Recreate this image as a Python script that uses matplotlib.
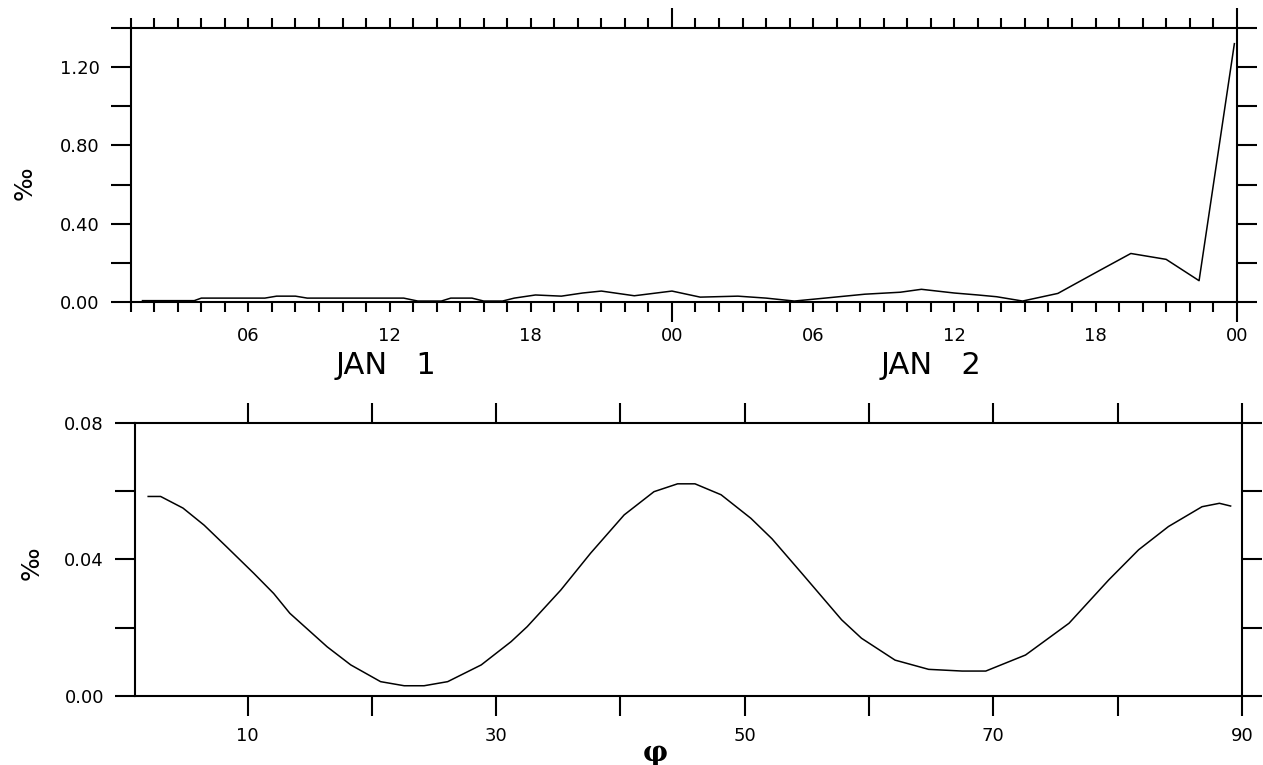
import numpy as np
import matplotlib
matplotlib.use('Agg')
import matplotlib.pyplot as plt
from matplotlib.ticker import MultipleLocator, FixedLocator, FuncFormatter

# top panel: hours since JAN 1 00Z, values in per mille
hours = [1.5, 3.7, 4.0, 6.7, 7.2, 8.0, 8.5, 12.6, 13.2, 14.2, 14.6, 15.5, 16.0, 16.8,
         17.3, 18.2, 19.3, 20.2, 21.0, 22.4, 24.0, 25.2, 26.8, 28.0, 29.2, 30.5, 32.2,
         33.7, 34.6, 36.0, 37.0, 37.8, 38.9, 40.4, 41.2, 42.2, 43.5, 45.0, 46.4, 47.9]
val_t = [0.007, 0.007, 0.02, 0.02, 0.03, 0.03, 0.02, 0.02, 0.005, 0.005, 0.02, 0.02, 0.005, 0.005,
         0.02, 0.036, 0.03, 0.046, 0.056, 0.032, 0.056, 0.025, 0.03, 0.02, 0.005, 0.02, 0.04,
         0.05, 0.065, 0.046, 0.036, 0.027, 0.005, 0.044, 0.097, 0.163, 0.248, 0.218, 0.109, 1.32]

# bottom panel: latitude phi vs per mille
phi = [2.0, 3.0, 4.8, 6.5, 8.3, 10.5, 12.1, 13.4, 16.4, 18.3, 20.7, 22.6, 24.2, 26.1, 28.8,
       31.2, 32.5, 35.2, 37.6, 40.3, 42.7, 44.6, 46.0, 48.1, 50.5, 52.2, 54.6, 57.8, 59.4,
       62.1, 64.8, 67.5, 69.4, 72.6, 76.1, 79.3, 81.7, 84.1, 86.8, 88.2, 89.1]
val_b = [0.0584, 0.0584, 0.055, 0.050, 0.0437, 0.0359, 0.030, 0.0242, 0.0144, 0.0091, 0.0042,
         0.0030, 0.0030, 0.0042, 0.0091, 0.0159, 0.0203, 0.031, 0.0418, 0.053, 0.0598, 0.0621,
         0.0621, 0.0589, 0.052, 0.046, 0.0359, 0.0223, 0.0169, 0.0105, 0.0078, 0.0073, 0.0073,
         0.012, 0.0213, 0.034, 0.0428, 0.0496, 0.0554, 0.0564, 0.0556]

day_labels = ['JAN   1', 'JAN   2']
day_pos = [11.85, 35.0]

plt.rcParams['font.family'] = ['DejaVu Sans']
plt.rcParams['font.size'] = 13

fig = plt.figure(figsize=(12.63, 7.65), dpi=100)
ax1 = fig.add_axes([0.1035, 0.6052, 0.8757, 0.3582])
ax2 = fig.add_axes([0.1069, 0.0902, 0.8763, 0.3573])

for ax in (ax1, ax2):
    for s in ax.spines.values():
        s.set_linewidth(1.5)

# ---- top panel
ax1.plot(hours, val_t, color='black', lw=1.1)
ax1.set_xlim(1, 48)
ax1.set_ylim(0, 1.4)
ax1.xaxis.set_major_locator(FixedLocator([24, 48]))
ax1.xaxis.set_major_formatter(FuncFormatter(lambda v, p: '00'))
ax1.xaxis.set_minor_locator(MultipleLocator(1))
ax1.xaxis.set_minor_formatter(FuncFormatter(
    lambda v, p: '%02d' % (int(round(v)) % 24) if round(v) % 6 == 0 else ''))
ax1.tick_params(axis='x', which='major', direction='out', length=14.4, width=1.5,
                top=True, pad=3.6)
ax1.tick_params(axis='x', which='minor', direction='out', length=7.2, width=1.5,
                top=True, pad=10.8, labelsize=13)
ax1.yaxis.set_major_locator(MultipleLocator(0.4))
ax1.yaxis.set_minor_locator(MultipleLocator(0.2))
ax1.yaxis.set_major_formatter(FuncFormatter(lambda v, p: '%.2f' % v))
ax1.tick_params(axis='y', which='both', direction='out', length=14.4, width=1.5,
                right=True, pad=8)
ax1.set_ylabel('‰', fontsize=18)
ax1.yaxis.set_label_coords(-0.0847, 0.434)
for lab, pos in zip(day_labels, day_pos):
    ax1.text(pos, -0.23, lab, transform=ax1.get_xaxis_transform(),
             ha='center', va='center', fontsize=22)

# ---- bottom panel
ax2.plot(phi, val_b, color='black', lw=1.1)
ax2.set_xlim(0.94, 90)
ax2.set_ylim(0, 0.08)
ax2.xaxis.set_major_locator(FixedLocator([10, 30, 50, 70, 90]))
ax2.xaxis.set_minor_locator(FixedLocator([20, 40, 60, 80]))
ax2.tick_params(axis='x', which='both', direction='out', length=14.4, width=1.5,
                top=True, pad=8)
ax2.yaxis.set_major_locator(MultipleLocator(0.04))
ax2.yaxis.set_minor_locator(MultipleLocator(0.02))
ax2.yaxis.set_major_formatter(FuncFormatter(lambda v, p: '%.2f' % v))
ax2.tick_params(axis='y', which='both', direction='out', length=14.4, width=1.5,
                right=True, pad=8)
ax2.set_ylabel('‰', fontsize=18)
ax2.yaxis.set_label_coords(-0.083, 0.487)
ax2.set_xlabel('φ', fontsize=20, family='DejaVu Serif', fontweight='bold')
ax2.xaxis.set_label_coords(0.47, -0.16)

fig.savefig('out.png', dpi=100)
